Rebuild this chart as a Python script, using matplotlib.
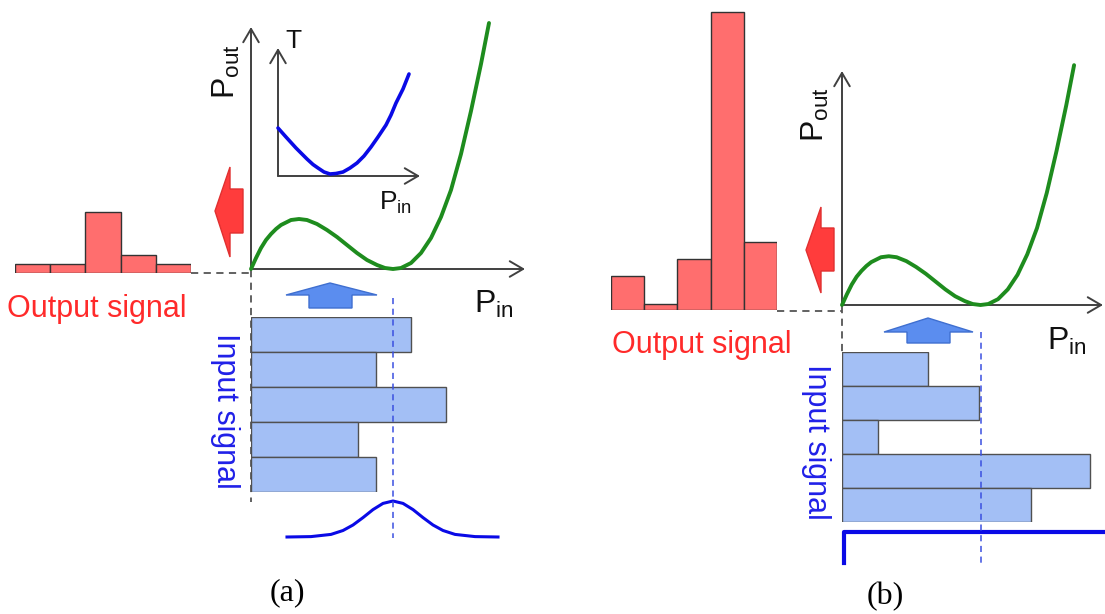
import matplotlib
matplotlib.use("Agg")
import matplotlib.pyplot as plt
from matplotlib.patches import Polygon

# ---------------- data ----------------
# transfer characteristic P_out(P_in), arbitrary units
pin_curve = [0, .05, .10, .15, .20, .25, .30, .40, .48, .56, .66, .76, .86, .96,
             1.06, 1.16, 1.26, 1.34, 1.42, 1.50, 1.60, 1.70, 1.80, 1.90, 2.00,
             2.10, 2.20, 2.30, 2.38]
pout_curve = [0, .11, .21, .29, .35, .40, .44, .49, .50, .49, .45, .39, .32, .24,
              .16, .09, .04, .01, 0, .01, .06, .16, .31, .52, .79,
              1.15, 1.58, 2.05, 2.46]
# inset: T(P_in)
inset_pin = [0, .08, .18, .29, .35, .40, .46, .52, .58, .65, .72, .79, .86, .93,
             1.00, 1.08, 1.13, 1.18, 1.25, 1.31]
inset_T = [.48, .39, .28, .17, .115, .08, .04, .02, .025, .04, .08, .13, .20, .29,
           .39, .51, .61, .73, .87, 1.02]
# (a) histograms
out_hist_a = [9, 9, 61, 18, 9]
in_hist_a = [1.60, 1.25, 1.95, 1.07, 1.25]
# (a) gaussian input distribution
gauss_pin = [.36, .60, .80, .92, 1.02, 1.12, 1.22, 1.32, 1.42, 1.52, 1.62, 1.72,
             1.82, 1.92, 2.04, 2.24, 2.47]
gauss_amp = [0, .004, .026, .065, .12, .194, .274, .336, .36, .336, .274, .194,
             .12, .065, .026, .004, 0]
# (b) histograms
out_hist_b = [34, 6, 51, 298, 68]
in_hist_b = [0.88, 1.40, 0.37, 2.54, 1.94]
# (b) step input
step_pin = [0.02, 0.02, 2.9]
step_amp = [0, 1, 1]
bias_a = 1.42
bias_b = 1.425

# ---------------- styles ----------------
plt.rcParams['font.family'] = ['Liberation Sans', 'DejaVu Sans']
plt.rcParams['mathtext.fontset'] = 'custom'
plt.rcParams['mathtext.rm'] = 'Liberation Sans'
plt.rcParams['mathtext.it'] = 'Liberation Sans:italic'

GREEN = '#1e8c1e'
BLUE = '#0a0ae6'
AXC = '#404040'
RED_BAR = '#ff6e6e'
BLUE_BAR = '#a3bff5'
RED_TXT = '#ff2a2a'
BLUE_TXT = '#2020e8'

W, H = 1105, 614
fig = plt.figure(figsize=(W / 100, H / 100), dpi=100)


def px_axes(x0, y0, x1, y1, xlim, ylim):
    """axes whose box is given in pixel coords (y measured from top)"""
    ax = fig.add_axes([x0 / W, 1 - y1 / H, (x1 - x0) / W, (y1 - y0) / H])
    ax.set_xlim(*xlim)
    ax.set_ylim(*ylim)
    ax.axis('off')
    return ax


back = px_axes(0, 0, W, H, (0, W), (H, 0))

# gray dashed guide lines
dkw = dict(color='#555555', lw=1.3, dashes=(4, 3))
back.plot([191, 251], [273, 273], **dkw)
back.plot([251, 251], [270, 502], **dkw)
back.plot([777, 842], [311, 311], **dkw)
back.plot([842, 842], [306, 352], **dkw)


def axis_arrow(ax, start, tip):
    ax.annotate('', xy=tip, xytext=start,
                arrowprops=dict(arrowstyle='->,head_length=0.6,head_width=0.35',
                                color=AXC, lw=1.4, shrinkA=0, shrinkB=0,
                                mutation_scale=16))


# axes lines
axis_arrow(back, (251, 269), (525, 269))
axis_arrow(back, (251, 269), (251, 27))
axis_arrow(back, (278, 176), (420, 176))
axis_arrow(back, (278, 176), (278, 48))
axis_arrow(back, (842, 305), (1103, 305))
axis_arrow(back, (842, 305), (842, 71))


# block arrows
def poly(ax, pts, fc, ec):
    ax.add_patch(Polygon(pts, closed=True, fc=fc, ec=ec, lw=1, zorder=3))


poly(back, [(243, 189), (230, 189), (230, 167), (215, 211), (230, 257),
            (230, 233), (243, 233)], '#ff3c3c', '#e03030')
poly(back, [(834, 228), (821, 228), (821, 207), (806, 250), (821, 293),
            (821, 271), (834, 271)], '#ff3c3c', '#e03030')
poly(back, [(309, 308), (309, 295), (286, 295), (330, 283), (377, 295),
            (352, 295), (352, 308)], '#5b8def', '#3f6fd0')
poly(back, [(907, 343), (907, 332), (884, 332), (928, 318), (973, 332),
            (950, 332), (950, 343)], '#5b8def', '#3f6fd0')

# ---------------- panel (a) ----------------
ax_ta = px_axes(251, 19, 551, 269, (0, 3.0), (0, 2.5))
ax_ta.plot(pin_curve, pout_curve, color=GREEN, lw=2.8, clip_on=False,
           solid_capstyle='round')

ax_in = px_axes(278, 50, 418, 176, (0, 1.4), (0, 1.26))
ax_in.plot(inset_pin, inset_T, color=BLUE, lw=2.6, clip_on=False,
           solid_capstyle='round')

ax_oa = px_axes(15, 173, 191, 273, (0, 5), (0, 100))
ax_oa.bar([i + 0.5 for i in range(5)], out_hist_a, width=1.0,
          color=RED_BAR, edgecolor='#333333', lw=1.0)

ax_ia = px_axes(251, 317, 551, 492, (0, 3.0), (5, 0))
ax_ia.barh([i + 0.5 for i in range(5)], in_hist_a, height=1.0,
           color=BLUE_BAR, edgecolor='#505050', lw=1.0)

ax_ga = px_axes(251, 437, 551, 537, (0, 3.0), (0, 1.0))
ax_ga.plot(gauss_pin, gauss_amp, color=BLUE, lw=2.2, clip_on=False)

# ---------------- panel (b) ----------------
ax_tb = px_axes(842, 55, 1105, 305, (0, 2.697), (0, 2.564))
ax_tb.plot(pin_curve, pout_curve, color=GREEN, lw=2.8, clip_on=False,
           solid_capstyle='round')

ax_ob = px_axes(611, 10, 777, 310, (0, 5), (0, 300))
ax_ob.bar([i + 0.5 for i in range(5)], out_hist_b, width=1.0,
          color=RED_BAR, edgecolor='#333333', lw=1.0)

ax_ib = px_axes(842, 352, 1105, 522, (0, 2.697), (5, 0))
ax_ib.barh([i + 0.5 for i in range(5)], in_hist_b, height=1.0,
           color=BLUE_BAR, edgecolor='#505050', lw=1.0)

ax_sb = px_axes(842, 532, 1105, 563, (0, 2.697), (0, 1))
ax_sb.plot(step_pin, step_amp, color=BLUE, lw=3, clip_on=False)

# ---------------- front overlay ----------------
front = px_axes(0, 0, W, H, (0, W), (H, 0))
bkw = dict(color='#3a4fe0', lw=1.1, dashes=(4, 3))
xa = 251 + bias_a * 100
xb = 842 + bias_b * 263 / 2.697
front.plot([xa, xa], [298, 538], **bkw)
front.plot([xb, xb], [332, 567], **bkw)

# texts
front.text(226, 72, r'P$_{\mathrm{out}}$', fontsize=23, rotation=90,
           ha='center', va='center', color='#111111')
front.text(815, 115, r'P$_{\mathrm{out}}$', fontsize=23, rotation=90,
           ha='center', va='center', color='#111111')
front.text(474, 313, r'P$_{\mathrm{in}}$', fontsize=23, ha='left',
           va='baseline', color='#111111')
front.text(1047, 350, r'P$_{\mathrm{in}}$', fontsize=23, ha='left',
           va='baseline', color='#111111')
front.text(379, 210, r'P$_{\mathrm{in}}$', fontsize=19, ha='left',
           va='baseline', color='#111111')
front.text(285, 48, 'T', fontsize=19, ha='left', va='baseline', color='#111111')

front.text(7, 317, 'Output signal', fontsize=22, ha='left', va='baseline',
           color=RED_TXT)
front.text(612, 353, 'Output signal', fontsize=22, ha='left', va='baseline',
           color=RED_TXT)
front.text(225, 411, 'Input signal', fontsize=22, rotation=270, ha='center',
           va='center', color=BLUE_TXT)
front.text(816, 442, 'Input signal', fontsize=22, rotation=270, ha='center',
           va='center', color=BLUE_TXT)

front.text(287, 593, '(a)', fontsize=23, ha='center', va='center',
           family='Liberation Serif', color='black')
front.text(885, 597, '(b)', fontsize=23, ha='center', va='center',
           family='Liberation Serif', color='black')

fig.savefig('out.png', dpi=100, facecolor='white')
